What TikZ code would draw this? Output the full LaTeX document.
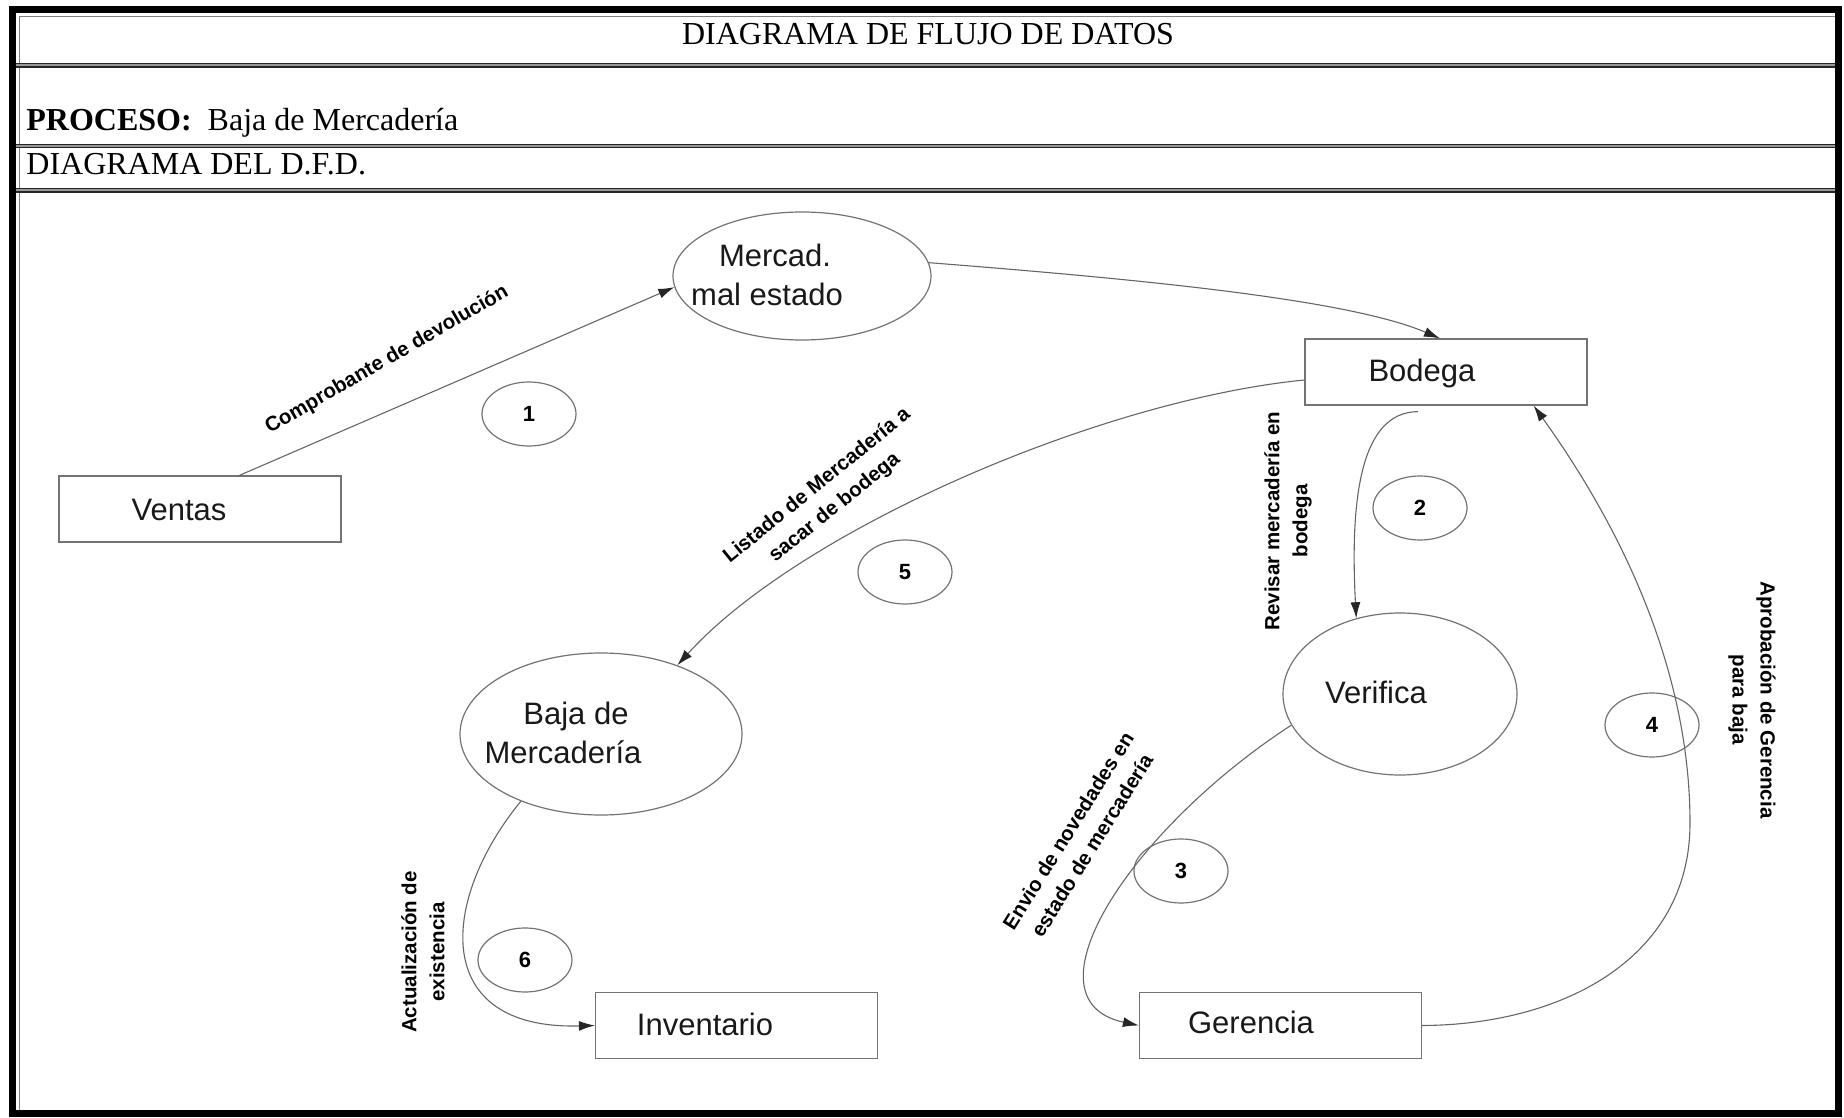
\documentclass[tikz,border=0pt]{standalone}
\usepackage{fontspec}
\setmainfont{Liberation Serif}
\newfontfamily\arialf{Liberation Sans}
\usetikzlibrary{shapes.geometric,arrows.meta}
\begin{document}
\begin{tikzpicture}[x=0.5pt,y=-0.5pt,
  proc/.style={ellipse,draw=black!55,line width=0.6pt,inner sep=0pt},
  ent/.style={rectangle,draw=black!55,line width=0.6pt,inner sep=0pt,minimum width=141pt,minimum height=33pt},
  boxtxt/.style={font=\arialf\fontsize{15.5}{18}\selectfont,inner sep=0pt,anchor=base,text=black!90},
  lbl/.style={font=\arialf\bfseries\fontsize{10.25}{14}\selectfont,align=center,inner sep=0pt},
  num/.style={ellipse,draw=black!55,line width=0.6pt,inner sep=0pt,minimum width=47pt,minimum height=32pt,font=\arialf\bfseries\fontsize{11}{13}\selectfont},
  flow/.style={draw=black!60,line width=0.55pt,-{Latex[length=8pt,width=5pt,color=black!85]}},
  hdr/.style={font=\fontsize{16}{19}\selectfont,inner sep=0pt},
  sep/.style={line width=0.6pt,double=black!40,double distance=1pt,draw=black!85}
]
\useasboundingbox (0,0) rectangle (1844,1118);
\fill[white] (0,0) rectangle (1844,1118);

% frame
\draw[line width=3.5pt] (12,9.5) rectangle (1838.5,1113.5);
\draw[black!50,line width=0.5pt] (19.5,1110) -- (19.5,16.5) -- (1835,16.5);
\draw[sep] (16,65.5) -- (1835,65.5);
\draw[sep] (16,146) -- (1835,146);
\draw[sep] (16,190.5) -- (1835,190.5);

% header texts
\node[hdr,anchor=base] (titulo) at (928,45) {DIAGRAMA DE FLUJO DE DATOS};
\node[hdr,anchor=base west] (proceso) at (26,131) {\textbf{PROCESO:}\ \ Baja de Mercadería};
\node[hdr,anchor=base west] (dfd) at (26,175) {DIAGRAMA DEL D.F.D.};

% entities
\node[ent] (ventas) at (200,509) {};
\node[boxtxt] (ventasT) at (179,520) {Ventas};
\node[ent] (bodega) at (1446,372) {};
\node[boxtxt] (bodegaT) at (1422,382) {Bodega};
\node[ent] (inventario) at (736.5,1025.5) {};
\node[boxtxt] (inventarioT) at (705,1035) {Inventario};
\node[ent] (gerencia) at (1280.5,1025.5) {};
\node[boxtxt] (gerenciaT) at (1251,1033) {Gerencia};

% processes
\node[proc,minimum width=129pt,minimum height=64pt] (mercad) at (802,276) {};
\node[boxtxt] (mercadT1) at (775,267) {Mercad.};
\node[boxtxt] (mercadT2) at (767,306) {mal estado};
\node[proc,minimum width=117pt,minimum height=81pt] (verifica) at (1400,694) {};
\node[boxtxt] (verificaT) at (1376,703) {Verifica};
\node[proc,minimum width=141pt,minimum height=81pt] (baja) at (601,734) {};
\node[boxtxt] (bajaT1) at (576,724) {Baja de};
\node[boxtxt] (bajaT2) at (563,763) {Mercadería};

% numbers
\node[num] (n1) at (529,414) {1};
\node[num] (n2) at (1420,508) {2};
\node[num] (n3) at (1181,871) {3};
\node[num] (n4) at (1652,725) {4};
\node[num] (n5) at (905,572) {5};
\node[num] (n6) at (525,960) {6};

% flow labels
\node[lbl,rotate=30] (l1) at (387,360) {Comprobante de devolución};
\node[lbl,rotate=90] (l2) at (1288,521) {Revisar mercadería en\\bodega};
\node[lbl,rotate=58] (l3) at (1080,838) {Envio de novedades en\\estado de mercadería};
\node[lbl,rotate=-90] (l4) at (1752,700) {Aprobación de Gerencia\\para baja};
\node[lbl,rotate=39] (l5) at (826,497) {Listado de Mercadería a\\sacar de bodega};
\node[lbl,rotate=90] (l6) at (423,952) {Actualización de\\existencia};

% flows
\draw[flow] ([xshift=90.5pt]ventas.north west) -- (mercad.185);
\draw[flow] (mercad.6) .. controls (1150,280) and (1350,300) .. ([xshift=-3pt]bodega.north);
\draw[flow] ([yshift=-4pt]bodega.west) .. controls (1100,400) and (800,530) .. (baja.42);
\draw[flow] ([xshift=-14pt,yshift=-3pt]bodega.south) .. controls (1360,412) and (1350,500) .. (verifica.120);
\draw[flow] (verifica.196) .. controls (1130,830) and (1020,1000) .. (gerencia.west);
\draw[flow] (gerencia.east) .. controls (1560,1025) and (1690,960) .. (1690,823) .. controls (1690,680) and (1630,540) .. ([xshift=-27pt]bodega.south east);
\draw[flow] (baja.220) .. controls (440,900) and (430,1030) .. (inventario.west);
\end{tikzpicture}
\end{document}
